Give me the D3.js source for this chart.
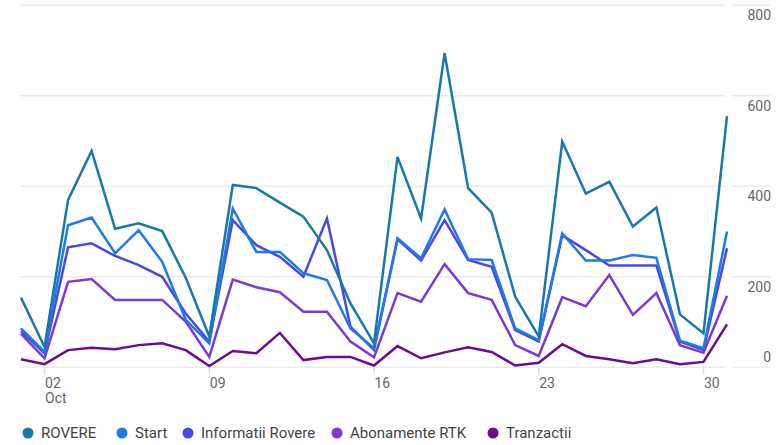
<!DOCTYPE html>
<html>
<head>
<meta charset="utf-8">
<script src="https://cdn.jsdelivr.net/npm/d3@7"></script>
<style>
  html, body { margin: 0; padding: 0; background: #fff; }
  svg { display: block; font-family: Roboto, "Noto Sans", sans-serif; }
</style>
</head>
<body>
<svg id="chart" width="777" height="445"></svg>
<script>
const days = d3.range(1, 32);
const seriesNames = ["ROVERE", "Start", "Informatii Rovere", "Abonamente RTK", "Tranzactii"];
const seriesColors = ["#1978a8", "#1e7be6", "#4b47e6", "#7a3bd4", "#6e0a90"];
const rovere = [154, 45, 370, 478, 306, 318, 301, 198, 68, 403, 396, 364, 333, 259, 141, 53, 465, 329, 694, 396, 342, 156, 68, 499, 384, 410, 311, 353, 117, 75, 555];
const start = [86, 34, 314, 331, 252, 303, 233, 105, 53, 351, 255, 255, 208, 193, 86, 42, 285, 241, 349, 239, 237, 86, 60, 296, 236, 236, 248, 242, 59, 42, 300];
const informatii = [80, 31, 265, 274, 246, 226, 200, 119, 57, 325, 270, 244, 200, 329, 90, 38, 283, 236, 325, 237, 222, 82, 57, 292, 259, 225, 225, 225, 57, 38, 263];
const abonamente = [74, 20, 189, 195, 149, 149, 149, 101, 23, 194, 177, 166, 123, 123, 57, 22, 164, 145, 228, 164, 149, 49, 25, 155, 135, 204, 116, 164, 49, 32, 158];
const tranzactii = [18, 7, 38, 43, 40, 49, 53, 38, 3, 36, 31, 76, 16, 23, 23, 4, 47, 20, 33, 44, 34, 4, 10, 51, 25, 18, 9, 18, 7, 12, 95];
const yTicks = [0, 200, 400, 600, 800];
const xTickDays = [2, 9, 16, 23, 30];
const xTickLabels = ["02", "09", "16", "23", "30"];
const monthLabel = "Oct";

const allSeries = [rovere, start, informatii, abonamente, tranzactii];

const svg = d3.select("#chart");
const x = d3.scaleLinear().domain([1, 31]).range([21, 727]);
const y = d3.scaleLinear().domain([0, 800]).range([367.3, 5.3]);

// gridlines
const grid = svg.append("g");
yTicks.forEach(t => {
  grid.append("line")
    .attr("x1", 20).attr("x2", 725)
    .attr("y1", y(t)).attr("y2", y(t))
    .attr("stroke", "#ebebeb").attr("stroke-width", 1.5);
  grid.append("line")
    .attr("x1", 732).attr("x2", 770)
    .attr("y1", y(t)).attr("y2", y(t))
    .attr("stroke", "#ebebeb").attr("stroke-width", 1.5);
  grid.append("text")
    .attr("x", 771)
    .attr("y", t === 0 ? y(t) - 10 : y(t) + 10)
    .attr("dy", "0.35em")
    .attr("text-anchor", "end")
    .attr("fill", "#666")
    .attr("font-size", 14)
    .text(t);
});

// x ticks
const xg = svg.append("g");
xTickDays.forEach((d, i) => {
  xg.append("line")
    .attr("x1", x(d)).attr("x2", x(d))
    .attr("y1", y(0)).attr("y2", y(0) + 7)
    .attr("stroke", "#e0e0e0").attr("stroke-width", 1.5);
  xg.append("text")
    .attr("x", x(d) + 0.5)
    .attr("y", 383)
    .attr("dy", "0.35em")
    .attr("fill", "#666")
    .attr("font-size", 14)
    .text(xTickLabels[i]);
});
xg.append("text")
  .attr("x", x(2) + 0.5)
  .attr("y", 398)
  .attr("dy", "0.35em")
  .attr("fill", "#666")
  .attr("font-size", 14)
  .text(monthLabel);

// lines (draw last series first so ROVERE on top)
const line = d3.line().x((v, i) => x(days[i])).y(v => y(v));
const lg = svg.append("g");
for (let s = allSeries.length - 1; s >= 0; s--) {
  lg.append("path")
    .datum(allSeries[s])
    .attr("d", line)
    .attr("fill", "none")
    .attr("stroke", seriesColors[s])
    .attr("stroke-width", 2.5)
    .attr("stroke-linejoin", "miter");
}

// legend
const legendCircleX = [28, 122, 188, 337, 493];
const legend = svg.append("g");
seriesNames.forEach((n, i) => {
  legend.append("circle")
    .attr("cx", legendCircleX[i]).attr("cy", 433)
    .attr("r", 5.5)
    .attr("fill", seriesColors[i]);
  legend.append("text")
    .attr("x", legendCircleX[i] + 13)
    .attr("y", 433)
    .attr("dy", "0.35em")
    .attr("fill", "#444")
    .attr("font-size", 15)
    .text(n);
});
</script>
</body>
</html>
